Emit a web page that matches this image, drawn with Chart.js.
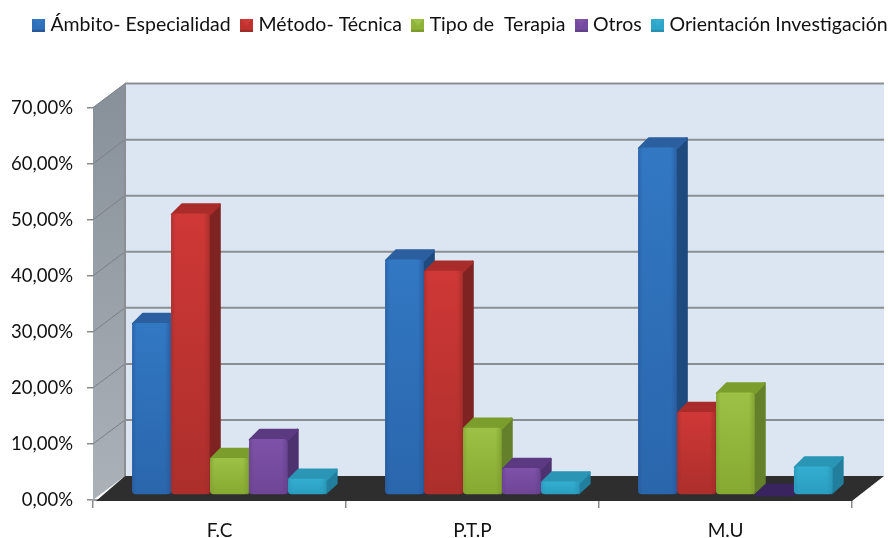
<!DOCTYPE html>
<html><head><meta charset="utf-8">
<style>html,body{margin:0;padding:0;background:#fff}canvas{display:block}</style>
<script src="https://cdn.jsdelivr.net/npm/chart.js@4"></script>
</head><body><canvas id="c" width="888" height="538"></canvas>
<script>
const categories = ['F.C', 'P.T.P', 'M.U'];
const seriesNames = ['Ámbito- Especialidad', 'Método- Técnica', 'Tipo de  Terapia', 'Otros', 'Orientación Investigación'];
const ambito = [30.7, 42, 62];
const metodo = [50.2, 40, 14.8];
const terapia = [6.6, 12, 18.3];
const otros = [10, 4.8, 0.2];
const orientacion = [2.9, 2.4, 5.1];
const tickLabels = ['0,00%', '10,00%', '20,00%', '30,00%', '40,00%', '50,00%', '60,00%', '70,00%'];

const FONT = 'Lato';
const palette = [
  {base:'#2e70b9', hi:'#3278c3', lo:'#2a66ac', edge:'#28589a', side:'#1f4a7e', top:'#2c5f9f'},
  {base:'#c0322f', hi:'#cf3836', lo:'#ac2f2c', edge:'#a02c2a', side:'#7f2322', top:'#a92b2a'},
  {base:'#8fb23a', hi:'#9cc146', lo:'#86a931', edge:'#7c9c2e', side:'#64802a', top:'#7b9d2c'},
  {base:'#7649a0', hi:'#7d52a8', lo:'#6f4597', edge:'#63408a', side:'#4e3270', top:'#5b3a82'},
  {base:'#2ea6c9', hi:'#33aed0', lo:'#2a9dc0', edge:'#2891b2', side:'#217f9d', top:'#2a95b5'}
];
const seriesValues = [ambito, metodo, terapia, otros, orientacion];

function legendIcon(p){
  const s=13, k=document.createElement('canvas'); k.width=s; k.height=s;
  const g=k.getContext('2d');
  g.fillStyle=p.base; g.fillRect(0,0,s,s);
  g.fillStyle=p.hi; g.beginPath(); g.moveTo(0,0); g.lineTo(s,0); g.lineTo(s/2,s*0.55); g.fill();
  g.fillStyle=p.edge; g.fillRect(0,s-2,s,2);
  return k;
}

const WALL_DX=32, WALL_DY=24, BAR_SHIFT_X=10, BAR_SHIFT_Y=5, BAR_DX=11, BAR_DY=10;

const scene = {
  id:'scene',
  afterLayout(chart){
    const l=chart.legend;
    l.left=22.7; l.right=960; l.top=1.7;
  },
  beforeDatasetsDraw(chart){
    const {ctx,chartArea:a,scales:{y}}=chart;
    const L=a.left,R=a.right,T=a.top,B=a.bottom;
    ctx.save();
    ctx.fillStyle='#dce6f2';
    ctx.fillRect(L+WALL_DX,T-WALL_DY,R-L,B-T);
    let g=ctx.createLinearGradient(0,T,0,B);
    g.addColorStop(0,'#89929b'); g.addColorStop(1,'#abb1b7');
    ctx.fillStyle=g; ctx.beginPath();
    ctx.moveTo(L,T); ctx.lineTo(L+WALL_DX,T-WALL_DY); ctx.lineTo(L+WALL_DX,B-WALL_DY); ctx.lineTo(L,B); ctx.closePath(); ctx.fill();
    tickLabels.forEach((_,i)=>{
      const py=y.getPixelForValue(i*10);
      if(i>0){
        ctx.strokeStyle='#8b8f93'; ctx.lineWidth=2;
        ctx.beginPath(); ctx.moveTo(L+WALL_DX,py-WALL_DY); ctx.lineTo(R+WALL_DX,py-WALL_DY); ctx.stroke();
        ctx.strokeStyle='#7b8086'; ctx.lineWidth=1;
        ctx.beginPath(); ctx.moveTo(L,py); ctx.lineTo(L+WALL_DX,py-WALL_DY); ctx.stroke();
      }
    });
    ctx.strokeStyle='#8b8f93'; ctx.lineWidth=2;
    ctx.beginPath(); ctx.moveTo(L+WALL_DX,T-WALL_DY); ctx.lineTo(L+WALL_DX,B-WALL_DY); ctx.stroke();
    ctx.fillStyle='#2e2e2e'; ctx.beginPath();
    ctx.moveTo(L+3,B+1); ctx.lineTo(L+WALL_DX,B-WALL_DY); ctx.lineTo(R+WALL_DX,B-WALL_DY); ctx.lineTo(R,B+1); ctx.closePath(); ctx.fill();
    ctx.restore();
  },
  beforeDatasetDraw(){ return false; },
  afterDatasetsDraw(chart){
    const ctx=chart.ctx, items=[];
    seriesValues.forEach((_,d)=>{
      chart.getDatasetMeta(d).data.forEach(el=>items.push({el,p:palette[d]}));
    });
    items.sort((a,b)=>a.el.x-b.el.x);
    ctx.save();
    ctx.lineJoin='round';
    items.forEach(({el,p})=>{
      const x0=el.x-el.width/2+BAR_SHIFT_X, x1=el.x+el.width/2+BAR_SHIFT_X-0.5;
      const yT=el.y-BAR_SHIFT_Y, yB=el.base-BAR_SHIFT_Y;
      const poly=(pts,c)=>{
        ctx.fillStyle=c; ctx.strokeStyle=c; ctx.lineWidth=2.5;
        ctx.beginPath(); pts.forEach((q,i)=>i?ctx.lineTo(q[0],q[1]):ctx.moveTo(q[0],q[1])); ctx.closePath(); ctx.fill(); ctx.stroke();
      };
      const flat = yB-yT<3;
      poly([[x1-1,yB-1],[x1-1,yT+1],[x1+BAR_DX-1,yT-BAR_DY+1],[x1+BAR_DX-1,yB-BAR_DY-1]],flat?'#3a2460':p.side);
      poly([[x0+1,yT+1],[x0+BAR_DX,yT-BAR_DY+1],[x1+BAR_DX-1,yT-BAR_DY+1],[x1,yT+1]],flat?'#3a2460':p.top);
      if(flat) return;
      const gv=ctx.createLinearGradient(0,yT,0,yB);
      gv.addColorStop(0,p.hi); gv.addColorStop(1,p.lo);
      ctx.fillStyle=gv;
      ctx.beginPath(); ctx.roundRect(x0,yT,x1-x0,yB-yT,4); ctx.fill();
      const gh=ctx.createLinearGradient(x0,0,x1,0);
      gh.addColorStop(0,p.edge+'99'); gh.addColorStop(0.12,p.edge+'00');
      gh.addColorStop(0.85,p.edge+'00'); gh.addColorStop(1,p.edge+'bb');
      ctx.fillStyle=gh;
      ctx.beginPath(); ctx.roundRect(x0,yT,x1-x0,yB-yT,4); ctx.fill();
    });
    ctx.restore();
  }
};

new Chart(document.getElementById('c'),{
  type:'bar',
  data:{labels:categories,datasets:seriesNames.map((n,i)=>({
    label:n,data:seriesValues[i],backgroundColor:palette[i].base,borderWidth:0,
    categoryPercentage:0.77,barPercentage:1,xAxisID:'x',yAxisID:'y'
  }))},
  plugins:[scene],
  options:{
    responsive:false,animation:false,
    layout:{padding:{top:64.4,left:0,right:0,bottom:0}},
    plugins:{
      tooltip:{enabled:false},
      legend:{
        display:true,position:'top',align:'start',
        labels:{
          usePointStyle:true,pointStyleWidth:4.25,padding:13.7,color:'#111',
          font:{family:FONT,size:19.5},
          generateLabels(chart){
            return Chart.defaults.plugins.legend.labels.generateLabels(chart).map((it,i)=>{
              it.pointStyle=legendIcon(palette[i]); return it;
            });
          }
        }
      }
    },
    scales:{
      x:{
        position:'bottom',
        afterFit(s){s.height=38;},
        grid:{drawOnChartArea:false,drawTicks:true,tickLength:8,color:'#8a8a8a',lineWidth:1.5},
        border:{display:true,color:'#9a9a9a',width:2},
        ticks:{color:'#111',padding:11,font:{family:FONT,size:19},maxRotation:0}
      },
      y:{
        position:'left',min:0,max:70,
        afterFit(s){s.width=93;},
        grid:{drawOnChartArea:false,drawTicks:true,tickLength:6,color:'#8a8a8a',lineWidth:1.5},
        border:{display:false},
        ticks:{stepSize:10,color:'#111',padding:14,font:{family:FONT,size:18.5},
          callback(v){return tickLabels[Math.round(v/10)];}}
      },
      yr:{
        position:'right',display:true,
        afterFit(s){s.width=36;},
        grid:{display:false},border:{display:false},ticks:{display:false}
      }
    }
  }
});
</script></body></html>
